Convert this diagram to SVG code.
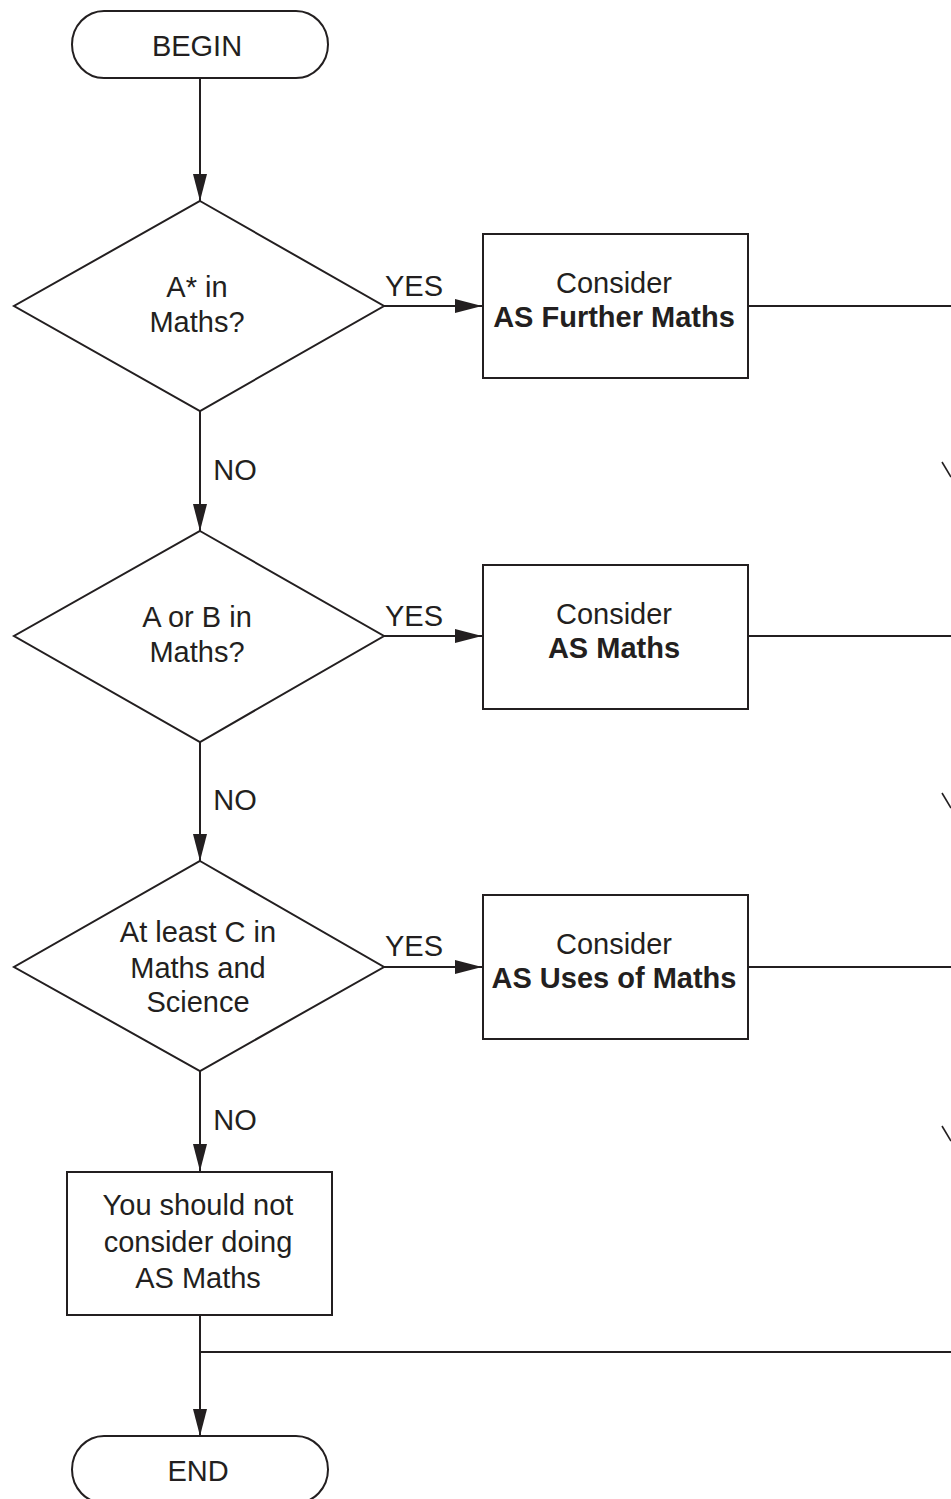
<svg xmlns="http://www.w3.org/2000/svg" width="951" height="1499" viewBox="0 0 951 1499">
<defs>
<style>
.s{fill:#fff;stroke:#231f20;stroke-width:2}
.c{fill:none;stroke:#231f20;stroke-width:2}
.t{font-family:"Liberation Sans",Arial,sans-serif;font-size:29px;fill:#231f20;text-anchor:middle}
.b{font-weight:bold}
.m{fill:none;stroke:#231f20;stroke-width:1.6}
</style>
<marker id="ah" viewBox="0 0 27 14" refX="27" refY="7" markerWidth="27" markerHeight="14" markerUnits="userSpaceOnUse" orient="auto">
<path d="M0,0 L27,7 L0,14 z" fill="#231f20"/>
</marker>
</defs>
<rect width="951" height="1499" fill="#fff"/>
<g id="connectors">
<line class="c" x1="200" y1="78" x2="200" y2="201" marker-end="url(#ah)"/>
<line class="c" x1="384" y1="306" x2="482" y2="306" marker-end="url(#ah)"/>
<line class="c" x1="748" y1="306" x2="951" y2="306"/>
<line class="c" x1="200" y1="411" x2="200" y2="531" marker-end="url(#ah)"/>
<line class="c" x1="384" y1="636" x2="482" y2="636" marker-end="url(#ah)"/>
<line class="c" x1="748" y1="636" x2="951" y2="636"/>
<line class="c" x1="200" y1="742" x2="200" y2="861" marker-end="url(#ah)"/>
<line class="c" x1="384" y1="967" x2="482" y2="967" marker-end="url(#ah)"/>
<line class="c" x1="748" y1="967" x2="951" y2="967"/>
<line class="c" x1="200" y1="1071" x2="200" y2="1171" marker-end="url(#ah)"/>
<line class="c" x1="200" y1="1315" x2="200" y2="1436" marker-end="url(#ah)"/>
<line class="c" x1="200" y1="1352" x2="951" y2="1352"/>
<line class="m" x1="942" y1="462" x2="951" y2="477"/>
<line class="m" x1="942" y1="793" x2="951" y2="808"/>
<line class="m" x1="942" y1="1126" x2="951" y2="1141"/>
<text class="t" x="414" y="296">YES</text>
<text class="t" x="414" y="626">YES</text>
<text class="t" x="414" y="956">YES</text>
<text class="t" x="235" y="480">NO</text>
<text class="t" x="235" y="810">NO</text>
<text class="t" x="235" y="1130">NO</text>
</g>
<g id="begin">
<path class="s" d="M104,11 L296,11 A32,33.5 0 0 1 296,78 L104,78 A32,33.5 0 0 1 104,11 z"/>
<text class="t" x="197" y="56">BEGIN</text>
</g>
<g id="d1">
<polygon class="s" points="200,201 384,306 200,411 14,306"/>
<text class="t" x="197" y="297">A* in</text>
<text class="t" x="197" y="332">Maths?</text>
</g>
<g id="b1">
<rect class="s" x="483" y="234" width="265" height="144"/>
<text class="t" x="614" y="293">Consider</text>
<text class="t b" x="614" y="327">AS Further Maths</text>
</g>
<g id="d2">
<polygon class="s" points="200,531 384,636 200,742 14,636"/>
<text class="t" x="197" y="627">A or B in</text>
<text class="t" x="197" y="662">Maths?</text>
</g>
<g id="b2">
<rect class="s" x="483" y="565" width="265" height="144"/>
<text class="t" x="614" y="624">Consider</text>
<text class="t b" x="614" y="658">AS Maths</text>
</g>
<g id="d3">
<polygon class="s" points="200,861 384,967 200,1071 14,967"/>
<text class="t" x="198" y="942">At least C in</text>
<text class="t" x="198" y="978">Maths and</text>
<text class="t" x="198" y="1012">Science</text>
</g>
<g id="b3">
<rect class="s" x="483" y="895" width="265" height="144"/>
<text class="t" x="614" y="954">Consider</text>
<text class="t b" x="614" y="988">AS Uses of Maths</text>
</g>
<g id="no">
<rect class="s" x="67" y="1172" width="265" height="143"/>
<text class="t" x="198" y="1215">You should not</text>
<text class="t" x="198" y="1252">consider doing</text>
<text class="t" x="198" y="1288">AS Maths</text>
</g>
<g id="end">
<path class="s" d="M104,1436 L296,1436 A32,33.5 0 0 1 296,1503 L104,1503 A32,33.5 0 0 1 104,1436 z"/>
<text class="t" x="198" y="1481">END</text>
</g>
</svg>
